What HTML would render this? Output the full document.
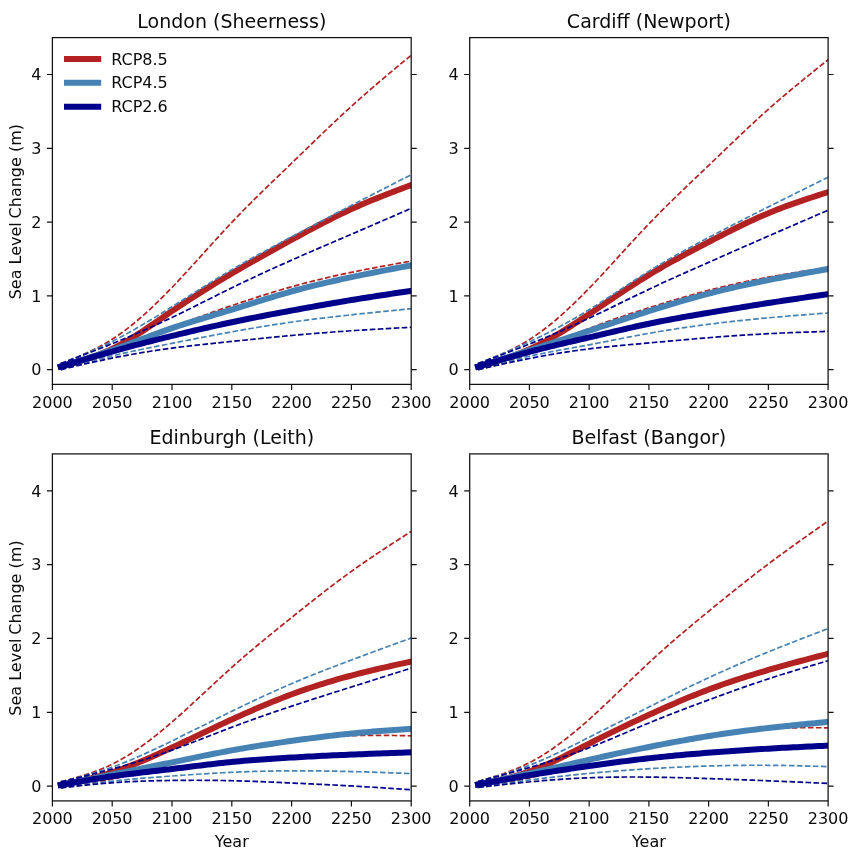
<!DOCTYPE html>
<html lang="en"><head><meta charset="utf-8"><title>Sea Level Change projections</title>
<style>html,body{margin:0;padding:0;background:#fff}svg{display:block}text{font-family:"DejaVu Sans","Liberation Sans",sans-serif;fill:#0a0a0a}.tk{font-size:16px}.tt{font-size:19px}.ax{fill:none;stroke:#111;stroke-width:1.25}.tm{stroke:#111;stroke-width:1.2;fill:none}.md{fill:none;stroke-width:6;stroke-linecap:square;stroke-linejoin:round}.ds{fill:none;stroke-width:1.7;stroke-dasharray:5.6 2.4;stroke-linejoin:round}</style></head><body>
<svg role="img" aria-label="Sea level change projections to 2300 for four UK tide gauge sites" width="863" height="858" viewBox="0 0 863 858">
<rect width="863" height="858" fill="#fff"/>
<clipPath id="c0"><rect x="52.4" y="37.6" width="358.8" height="346.8"/></clipPath>
<g clip-path="url(#c0)">
<polyline class="md" stroke="#b22222" points="60.77,366.6 64.36,365.62 67.95,364.62 71.54,363.61 75.12,362.58 78.71,361.52 82.3,360.42 85.89,359.28 89.48,358.08 93.06,356.83 96.65,355.51 100.24,354.12 103.83,352.65 107.42,351.09 111,349.43 114.59,347.67 118.18,345.82 121.77,343.87 125.36,341.83 128.94,339.72 132.53,337.54 136.12,335.29 139.71,333 143.3,330.65 146.88,328.27 150.47,325.85 154.06,323.42 157.65,320.96 161.24,318.5 164.82,316.04 168.41,313.58 172,311.14 175.59,308.73 179.18,306.33 182.76,303.95 186.35,301.6 189.94,299.26 193.53,296.95 197.12,294.66 200.7,292.38 204.29,290.13 207.88,287.89 211.47,285.67 215.06,283.47 218.64,281.29 222.23,279.13 225.82,276.98 229.41,274.84 233,272.73 236.58,270.63 240.17,268.54 243.76,266.47 247.35,264.41 250.94,262.36 254.52,260.32 258.11,258.3 261.7,256.28 265.29,254.28 268.88,252.28 272.46,250.29 276.05,248.31 279.64,246.33 283.23,244.36 286.82,242.4 290.4,240.44 293.99,238.48 297.58,236.53 301.17,234.58 304.76,232.65 308.34,230.72 311.93,228.81 315.52,226.9 319.11,225.02 322.7,223.15 326.28,221.31 329.87,219.48 333.46,217.68 337.05,215.91 340.64,214.16 344.22,212.44 347.81,210.75 351.4,209.1 354.99,207.48 358.58,205.89 362.16,204.33 365.75,202.81 369.34,201.31 372.93,199.83 376.52,198.38 380.1,196.94 383.69,195.53 387.28,194.13 390.87,192.75 394.46,191.37 398.04,190.01 401.63,188.66 405.22,187.31 411.2,185.06"/>
<polyline class="ds" stroke="#b22222" points="60.77,363.65 64.36,362.23 67.95,360.81 71.54,359.37 75.12,357.91 78.71,356.41 82.3,354.87 85.89,353.28 89.48,351.62 93.06,349.91 96.65,348.11 100.24,346.23 103.83,344.26 107.42,342.18 111,340 114.59,337.7 118.18,335.27 121.77,332.74 125.36,330.09 128.94,327.34 132.53,324.48 136.12,321.53 139.71,318.48 143.3,315.34 146.88,312.12 150.47,308.81 154.06,305.43 157.65,301.97 161.24,298.44 164.82,294.85 168.41,291.19 172,287.48 175.59,283.72 179.18,279.9 182.76,276.05 186.35,272.16 189.94,268.24 193.53,264.3 197.12,260.34 200.7,256.37 204.29,252.4 207.88,248.42 211.47,244.46 215.06,240.5 218.64,236.57 222.23,232.66 225.82,228.78 229.41,224.94 233,221.15 236.58,217.4 240.17,213.69 243.76,210.02 247.35,206.39 250.94,202.79 254.52,199.22 258.11,195.67 261.7,192.15 265.29,188.65 268.88,185.16 272.46,181.69 276.05,178.23 279.64,174.77 283.23,171.32 286.82,167.86 290.4,164.4 293.99,160.94 297.58,157.47 301.17,153.99 304.76,150.51 308.34,147.03 311.93,143.56 315.52,140.09 319.11,136.63 322.7,133.19 326.28,129.75 329.87,126.33 333.46,122.94 337.05,119.56 340.64,116.2 344.22,112.88 347.81,109.58 351.4,106.31 354.99,103.08 358.58,99.87 362.16,96.7 365.75,93.56 369.34,90.44 372.93,87.35 376.52,84.27 380.1,81.22 383.69,78.19 387.28,75.17 390.87,72.16 394.46,69.17 398.04,66.18 401.63,63.2 405.22,60.23 411.2,55.29"/>
<polyline class="ds" stroke="#b22222" points="60.77,369.56 64.36,368.54 67.95,367.51 71.54,366.47 75.12,365.43 78.71,364.37 82.3,363.29 85.89,362.2 89.48,361.09 93.06,359.94 96.65,358.77 100.24,357.57 103.83,356.34 107.42,355.06 111,353.74 114.59,352.38 118.18,350.98 121.77,349.54 125.36,348.06 128.94,346.55 132.53,345.02 136.12,343.47 139.71,341.9 143.3,340.32 146.88,338.73 150.47,337.14 154.06,335.55 157.65,333.97 161.24,332.4 164.82,330.84 168.41,329.3 172,327.78 175.59,326.29 179.18,324.83 182.76,323.39 186.35,321.98 189.94,320.59 193.53,319.22 197.12,317.87 200.7,316.54 204.29,315.23 207.88,313.93 211.47,312.65 215.06,311.38 218.64,310.12 222.23,308.88 225.82,307.64 229.41,306.41 233,305.19 236.58,303.98 240.17,302.77 243.76,301.57 247.35,300.38 250.94,299.2 254.52,298.03 258.11,296.87 261.7,295.73 265.29,294.59 268.88,293.47 272.46,292.37 276.05,291.28 279.64,290.2 283.23,289.14 286.82,288.1 290.4,287.08 293.99,286.07 297.58,285.09 301.17,284.12 304.76,283.18 308.34,282.25 311.93,281.33 315.52,280.44 319.11,279.56 322.7,278.7 326.28,277.85 329.87,277.02 333.46,276.2 337.05,275.4 340.64,274.61 344.22,273.83 347.81,273.07 351.4,272.32 354.99,271.59 358.58,270.86 362.16,270.15 365.75,269.44 369.34,268.75 372.93,268.06 376.52,267.38 380.1,266.71 383.69,266.05 387.28,265.39 390.87,264.73 394.46,264.08 398.04,263.44 401.63,262.79 405.22,262.15 411.2,261.08"/>
<polyline class="md" stroke="#4682b4" points="60.77,366.6 64.36,365.49 67.95,364.38 71.54,363.27 75.12,362.15 78.71,361.02 82.3,359.89 85.89,358.75 89.48,357.6 93.06,356.44 96.65,355.26 100.24,354.07 103.83,352.86 107.42,351.63 111,350.39 114.59,349.12 118.18,347.83 121.77,346.53 125.36,345.22 128.94,343.89 132.53,342.56 136.12,341.22 139.71,339.87 143.3,338.53 146.88,337.19 150.47,335.86 154.06,334.54 157.65,333.22 161.24,331.93 164.82,330.65 168.41,329.39 172,328.15 175.59,326.94 179.18,325.75 182.76,324.59 186.35,323.44 189.94,322.31 193.53,321.2 197.12,320.1 200.7,319.01 204.29,317.93 207.88,316.85 211.47,315.78 215.06,314.71 218.64,313.63 222.23,312.56 225.82,311.48 229.41,310.39 233,309.3 236.58,308.19 240.17,307.08 243.76,305.96 247.35,304.83 250.94,303.71 254.52,302.58 258.11,301.46 261.7,300.33 265.29,299.22 268.88,298.11 272.46,297.01 276.05,295.92 279.64,294.85 283.23,293.79 286.82,292.76 290.4,291.74 293.99,290.74 297.58,289.76 301.17,288.81 304.76,287.87 308.34,286.95 311.93,286.06 315.52,285.18 319.11,284.31 322.7,283.46 326.28,282.63 329.87,281.81 333.46,281 337.05,280.21 340.64,279.42 344.22,278.65 347.81,277.88 351.4,277.13 354.99,276.38 358.58,275.64 362.16,274.9 365.75,274.18 369.34,273.45 372.93,272.74 376.52,272.02 380.1,271.32 383.69,270.61 387.28,269.91 390.87,269.21 394.46,268.52 398.04,267.83 401.63,267.14 405.22,266.45 411.2,265.3"/>
<polyline class="ds" stroke="#4682b4" points="60.77,363.65 64.36,362.22 67.95,360.79 71.54,359.35 75.12,357.9 78.71,356.44 82.3,354.96 85.89,353.46 89.48,351.93 93.06,350.38 96.65,348.79 100.24,347.17 103.83,345.51 107.42,343.81 111,342.06 114.59,340.26 118.18,338.41 121.77,336.52 125.36,334.58 128.94,332.6 132.53,330.59 136.12,328.54 139.71,326.46 143.3,324.34 146.88,322.21 150.47,320.04 154.06,317.86 157.65,315.65 161.24,313.43 164.82,311.2 168.41,308.96 172,306.71 175.59,304.45 179.18,302.19 182.76,299.93 186.35,297.67 189.94,295.41 193.53,293.15 197.12,290.9 200.7,288.66 204.29,286.42 207.88,284.19 211.47,281.98 215.06,279.78 218.64,277.59 222.23,275.42 225.82,273.27 229.41,271.14 233,269.03 236.58,266.95 240.17,264.88 243.76,262.84 247.35,260.81 250.94,258.8 254.52,256.8 258.11,254.83 261.7,252.86 265.29,250.91 268.88,248.96 272.46,247.03 276.05,245.11 279.64,243.19 283.23,241.27 286.82,239.37 290.4,237.46 293.99,235.56 297.58,233.66 301.17,231.76 304.76,229.86 308.34,227.96 311.93,226.07 315.52,224.18 319.11,222.29 322.7,220.4 326.28,218.51 329.87,216.63 333.46,214.75 337.05,212.87 340.64,211 344.22,209.13 347.81,207.26 351.4,205.4 354.99,203.54 358.58,201.68 362.16,199.83 365.75,197.98 369.34,196.13 372.93,194.29 376.52,192.45 380.1,190.61 383.69,188.77 387.28,186.93 390.87,185.09 394.46,183.26 398.04,181.43 401.63,179.6 405.22,177.76 411.2,174.71"/>
<polyline class="ds" stroke="#4682b4" points="60.77,369.56 64.36,368.56 67.95,367.56 71.54,366.57 75.12,365.57 78.71,364.59 82.3,363.61 85.89,362.63 89.48,361.67 93.06,360.72 96.65,359.78 100.24,358.85 103.83,357.94 107.42,357.05 111,356.17 114.59,355.31 118.18,354.47 121.77,353.65 125.36,352.85 128.94,352.06 132.53,351.28 136.12,350.52 139.71,349.76 143.3,349.02 146.88,348.29 150.47,347.56 154.06,346.84 157.65,346.13 161.24,345.42 164.82,344.72 168.41,344.01 172,343.31 175.59,342.61 179.18,341.91 182.76,341.2 186.35,340.5 189.94,339.8 193.53,339.1 197.12,338.4 200.7,337.71 204.29,337.02 207.88,336.33 211.47,335.64 215.06,334.96 218.64,334.28 222.23,333.61 225.82,332.95 229.41,332.29 233,331.63 236.58,330.98 240.17,330.34 243.76,329.71 247.35,329.09 250.94,328.47 254.52,327.86 258.11,327.26 261.7,326.66 265.29,326.08 268.88,325.5 272.46,324.94 276.05,324.38 279.64,323.83 283.23,323.3 286.82,322.77 290.4,322.26 293.99,321.75 297.58,321.26 301.17,320.78 304.76,320.31 308.34,319.84 311.93,319.39 315.52,318.94 319.11,318.5 322.7,318.07 326.28,317.65 329.87,317.23 333.46,316.82 337.05,316.42 340.64,316.02 344.22,315.62 347.81,315.23 351.4,314.84 354.99,314.46 358.58,314.08 362.16,313.7 365.75,313.32 369.34,312.95 372.93,312.58 376.52,312.21 380.1,311.84 383.69,311.47 387.28,311.11 390.87,310.75 394.46,310.38 398.04,310.02 401.63,309.66 405.22,309.3 411.2,308.7"/>
<polyline class="md" stroke="#00008b" points="60.77,366.6 64.36,365.52 67.95,364.44 71.54,363.36 75.12,362.28 78.71,361.2 82.3,360.13 85.89,359.06 89.48,358 93.06,356.95 96.65,355.9 100.24,354.85 103.83,353.82 107.42,352.8 111,351.78 114.59,350.78 118.18,349.78 121.77,348.8 125.36,347.83 128.94,346.86 132.53,345.91 136.12,344.96 139.71,344.03 143.3,343.1 146.88,342.18 150.47,341.26 154.06,340.35 157.65,339.46 161.24,338.56 164.82,337.67 168.41,336.79 172,335.92 175.59,335.05 179.18,334.18 182.76,333.32 186.35,332.47 189.94,331.62 193.53,330.77 197.12,329.94 200.7,329.11 204.29,328.29 207.88,327.47 211.47,326.66 215.06,325.86 218.64,325.07 222.23,324.29 225.82,323.51 229.41,322.74 233,321.98 236.58,321.23 240.17,320.49 243.76,319.76 247.35,319.03 250.94,318.31 254.52,317.6 258.11,316.89 261.7,316.19 265.29,315.5 268.88,314.81 272.46,314.13 276.05,313.45 279.64,312.78 283.23,312.1 286.82,311.44 290.4,310.77 293.99,310.11 297.58,309.45 301.17,308.8 304.76,308.15 308.34,307.5 311.93,306.85 315.52,306.21 319.11,305.57 322.7,304.94 326.28,304.31 329.87,303.69 333.46,303.07 337.05,302.45 340.64,301.84 344.22,301.24 347.81,300.64 351.4,300.05 354.99,299.47 358.58,298.89 362.16,298.31 365.75,297.74 369.34,297.18 372.93,296.62 376.52,296.06 380.1,295.51 383.69,294.96 387.28,294.41 390.87,293.87 394.46,293.32 398.04,292.78 401.63,292.24 405.22,291.71 411.2,290.81"/>
<polyline class="ds" stroke="#00008b" points="60.77,363.65 64.36,362.28 67.95,360.92 71.54,359.56 75.12,358.19 78.71,356.82 82.3,355.44 85.89,354.06 89.48,352.67 93.06,351.28 96.65,349.87 100.24,348.46 103.83,347.04 107.42,345.61 111,344.17 114.59,342.71 118.18,341.24 121.77,339.76 125.36,338.26 128.94,336.75 132.53,335.23 136.12,333.69 139.71,332.13 143.3,330.56 146.88,328.98 150.47,327.38 154.06,325.76 157.65,324.13 161.24,322.48 164.82,320.81 168.41,319.13 172,317.43 175.59,315.71 179.18,313.98 182.76,312.23 186.35,310.46 189.94,308.69 193.53,306.91 197.12,305.12 200.7,303.33 204.29,301.53 207.88,299.74 211.47,297.94 215.06,296.14 218.64,294.35 222.23,292.57 225.82,290.79 229.41,289.02 233,287.27 236.58,285.52 240.17,283.79 243.76,282.07 247.35,280.36 250.94,278.67 254.52,276.98 258.11,275.31 261.7,273.64 265.29,271.98 268.88,270.34 272.46,268.7 276.05,267.08 279.64,265.46 283.23,263.85 286.82,262.24 290.4,260.65 293.99,259.06 297.58,257.48 301.17,255.91 304.76,254.34 308.34,252.78 311.93,251.22 315.52,249.67 319.11,248.12 322.7,246.57 326.28,245.03 329.87,243.48 333.46,241.94 337.05,240.4 340.64,238.86 344.22,237.32 347.81,235.78 351.4,234.24 354.99,232.7 358.58,231.15 362.16,229.6 365.75,228.05 369.34,226.5 372.93,224.95 376.52,223.4 380.1,221.85 383.69,220.29 387.28,218.74 390.87,217.18 394.46,215.63 398.04,214.07 401.63,212.51 405.22,210.95 411.2,208.36"/>
<polyline class="ds" stroke="#00008b" points="60.77,369.56 64.36,368.73 67.95,367.89 71.54,367.06 75.12,366.23 78.71,365.4 82.3,364.58 85.89,363.77 89.48,362.96 93.06,362.16 96.65,361.38 100.24,360.6 103.83,359.83 107.42,359.08 111,358.34 114.59,357.62 118.18,356.91 121.77,356.22 125.36,355.54 128.94,354.88 132.53,354.24 136.12,353.61 139.71,352.99 143.3,352.39 146.88,351.8 150.47,351.23 154.06,350.68 157.65,350.14 161.24,349.61 164.82,349.1 168.41,348.6 172,348.12 175.59,347.65 179.18,347.19 182.76,346.75 186.35,346.32 189.94,345.9 193.53,345.49 197.12,345.09 200.7,344.69 204.29,344.31 207.88,343.93 211.47,343.55 215.06,343.18 218.64,342.81 222.23,342.44 225.82,342.07 229.41,341.71 233,341.34 236.58,340.97 240.17,340.6 243.76,340.23 247.35,339.86 250.94,339.49 254.52,339.13 258.11,338.76 261.7,338.39 265.29,338.03 268.88,337.67 272.46,337.31 276.05,336.96 279.64,336.61 283.23,336.26 286.82,335.92 290.4,335.58 293.99,335.25 297.58,334.93 301.17,334.61 304.76,334.3 308.34,333.99 311.93,333.69 315.52,333.39 319.11,333.1 322.7,332.82 326.28,332.54 329.87,332.27 333.46,332 337.05,331.74 340.64,331.48 344.22,331.23 347.81,330.98 351.4,330.74 354.99,330.5 358.58,330.27 362.16,330.05 365.75,329.83 369.34,329.61 372.93,329.4 376.52,329.19 380.1,328.98 383.69,328.77 387.28,328.57 390.87,328.37 394.46,328.17 398.04,327.98 401.63,327.78 405.22,327.59 411.2,327.26"/>
</g>
<rect class="ax" x="52.4" y="37.6" width="358.8" height="346.8"/>
<path class="tm" d="M52.4 384.4v5.5M112.2 384.4v5.5M172 384.4v5.5M231.8 384.4v5.5M291.6 384.4v5.5M351.4 384.4v5.5M411.2 384.4v5.5M52.4 369.64h-5.5M411.2 369.64h5.5M52.4 295.86h-5.5M411.2 295.86h5.5M52.4 222.07h-5.5M411.2 222.07h5.5M52.4 148.28h-5.5M411.2 148.28h5.5M52.4 74.49h-5.5M411.2 74.49h5.5"/>
<text class="tk" text-anchor="middle" x="52.4" y="408.1">2000</text>
<text class="tk" text-anchor="middle" x="112.2" y="408.1">2050</text>
<text class="tk" text-anchor="middle" x="172" y="408.1">2100</text>
<text class="tk" text-anchor="middle" x="231.8" y="408.1">2150</text>
<text class="tk" text-anchor="middle" x="291.6" y="408.1">2200</text>
<text class="tk" text-anchor="middle" x="351.4" y="408.1">2250</text>
<text class="tk" text-anchor="middle" x="411.2" y="408.1">2300</text>
<text class="tk" text-anchor="end" x="41.5" y="375.47">0</text>
<text class="tk" text-anchor="end" x="41.5" y="301.69">1</text>
<text class="tk" text-anchor="end" x="41.5" y="227.9">2</text>
<text class="tk" text-anchor="end" x="41.5" y="154.11">3</text>
<text class="tk" text-anchor="end" x="41.5" y="80.33">4</text>
<text class="tt" text-anchor="middle" x="231.8" y="28">London (Sheerness)</text>
<text class="tk" text-anchor="middle" transform="translate(21.2 211.65) rotate(-90)">Sea Level<tspan dx="-1.3"> Change (m)</tspan></text>
<clipPath id="c1"><rect x="469.7" y="37.6" width="358.4" height="346.8"/></clipPath>
<g clip-path="url(#c1)">
<polyline class="md" stroke="#b22222" points="478.06,366.6 481.65,365.59 485.23,364.57 488.81,363.54 492.4,362.5 495.98,361.42 499.57,360.32 503.15,359.19 506.73,358.01 510.32,356.79 513.9,355.51 517.49,354.18 521.07,352.78 524.65,351.31 528.24,349.76 531.82,348.13 535.41,346.42 538.99,344.64 542.57,342.78 546.16,340.86 549.74,338.87 553.33,336.82 556.91,334.72 560.49,332.57 564.08,330.38 567.66,328.14 571.25,325.86 574.83,323.56 578.41,321.22 582,318.87 585.58,316.49 589.17,314.1 592.75,311.7 596.33,309.29 599.92,306.88 603.5,304.47 607.09,302.06 610.67,299.65 614.25,297.25 617.84,294.85 621.42,292.47 625.01,290.11 628.59,287.76 632.17,285.43 635.76,283.12 639.34,280.84 642.93,278.59 646.51,276.37 650.09,274.19 653.68,272.03 657.26,269.92 660.85,267.83 664.43,265.77 668.01,263.74 671.6,261.73 675.18,259.75 678.77,257.79 682.35,255.85 685.93,253.92 689.52,252.01 693.1,250.12 696.69,248.23 700.27,246.36 703.85,244.49 707.44,242.62 711.02,240.76 714.61,238.91 718.19,237.06 721.77,235.22 725.36,233.39 728.94,231.58 732.53,229.78 736.11,228 739.69,226.24 743.28,224.5 746.86,222.79 750.45,221.1 754.03,219.44 757.61,217.82 761.2,216.23 764.78,214.68 768.37,213.16 771.95,211.69 775.53,210.26 779.12,208.86 782.7,207.49 786.29,206.16 789.87,204.86 793.45,203.58 797.04,202.32 800.62,201.09 804.21,199.88 807.79,198.68 811.37,197.5 814.96,196.33 818.54,195.16 822.13,194.01 828.1,192.09"/>
<polyline class="ds" stroke="#b22222" points="478.06,363.65 481.65,362.26 485.23,360.87 488.81,359.46 492.4,358.02 495.98,356.55 499.57,355.03 503.15,353.47 506.73,351.84 510.32,350.15 513.9,348.38 517.49,346.53 521.07,344.58 524.65,342.52 528.24,340.36 531.82,338.08 535.41,335.68 538.99,333.16 542.57,330.53 546.16,327.8 549.74,324.96 553.33,322.03 556.91,319 560.49,315.88 564.08,312.68 567.66,309.39 571.25,306.03 574.83,302.6 578.41,299.09 582,295.53 585.58,291.9 589.17,288.22 592.75,284.49 596.33,280.71 599.92,276.9 603.5,273.05 607.09,269.17 610.67,265.27 614.25,261.36 617.84,257.43 621.42,253.5 625.01,249.58 628.59,245.66 632.17,241.75 635.76,237.87 639.34,234.01 642.93,230.18 646.51,226.39 650.09,222.64 653.68,218.94 657.26,215.28 660.85,211.66 664.43,208.07 668.01,204.52 671.6,201 675.18,197.5 678.77,194.02 682.35,190.57 685.93,187.12 689.52,183.69 693.1,180.27 696.69,176.86 700.27,173.44 703.85,170.03 707.44,166.61 711.02,163.18 714.61,159.75 718.19,156.31 721.77,152.87 725.36,149.42 728.94,145.99 732.53,142.56 736.11,139.14 739.69,135.73 743.28,132.34 746.86,128.97 750.45,125.61 754.03,122.29 757.61,118.98 761.2,115.71 764.78,112.47 768.37,109.27 771.95,106.1 775.53,102.97 779.12,99.87 782.7,96.81 786.29,93.77 789.87,90.76 793.45,87.78 797.04,84.81 800.62,81.87 804.21,78.95 807.79,76.04 811.37,73.14 814.96,70.25 818.54,67.37 822.13,64.5 828.1,59.72"/>
<polyline class="ds" stroke="#b22222" points="478.06,369.56 481.65,368.57 485.23,367.57 488.81,366.56 492.4,365.55 495.98,364.52 499.57,363.48 503.15,362.41 506.73,361.32 510.32,360.21 513.9,359.06 517.49,357.88 521.07,356.66 524.65,355.41 528.24,354.11 531.82,352.76 535.41,351.37 538.99,349.94 542.57,348.47 546.16,346.98 549.74,345.46 553.33,343.92 556.91,342.36 560.49,340.8 564.08,339.23 567.66,337.66 571.25,336.09 574.83,334.54 578.41,333 582,331.48 585.58,329.99 589.17,328.52 592.75,327.09 596.33,325.7 599.92,324.33 603.5,322.99 607.09,321.68 610.67,320.4 614.25,319.14 617.84,317.91 621.42,316.69 625.01,315.49 628.59,314.31 632.17,313.14 635.76,311.98 639.34,310.83 642.93,309.7 646.51,308.57 650.09,307.44 653.68,306.32 657.26,305.2 660.85,304.09 664.43,302.99 668.01,301.89 671.6,300.81 675.18,299.73 678.77,298.66 682.35,297.6 685.93,296.56 689.52,295.53 693.1,294.51 696.69,293.51 700.27,292.52 703.85,291.56 707.44,290.6 711.02,289.67 714.61,288.76 718.19,287.86 721.77,286.99 725.36,286.13 728.94,285.29 732.53,284.46 736.11,283.66 739.69,282.87 743.28,282.1 746.86,281.34 750.45,280.6 754.03,279.87 757.61,279.17 761.2,278.47 764.78,277.79 768.37,277.13 771.95,276.48 775.53,275.84 779.12,275.22 782.7,274.61 786.29,274.01 789.87,273.42 793.45,272.83 797.04,272.26 800.62,271.7 804.21,271.14 807.79,270.58 811.37,270.03 814.96,269.49 818.54,268.95 822.13,268.41 828.1,267.52"/>
<polyline class="md" stroke="#4682b4" points="478.06,366.6 481.65,365.48 485.23,364.35 488.81,363.23 492.4,362.1 495.98,360.97 499.57,359.84 503.15,358.71 506.73,357.57 510.32,356.44 513.9,355.3 517.49,354.16 521.07,353.02 524.65,351.87 528.24,350.72 531.82,349.57 535.41,348.41 538.99,347.25 542.57,346.09 546.16,344.92 549.74,343.75 553.33,342.58 556.91,341.4 560.49,340.22 564.08,339.04 567.66,337.86 571.25,336.68 574.83,335.49 578.41,334.31 582,333.12 585.58,331.93 589.17,330.74 592.75,329.55 596.33,328.36 599.92,327.17 603.5,325.98 607.09,324.79 610.67,323.6 614.25,322.41 617.84,321.23 621.42,320.05 625.01,318.87 628.59,317.7 632.17,316.53 635.76,315.36 639.34,314.21 642.93,313.05 646.51,311.91 650.09,310.76 653.68,309.63 657.26,308.51 660.85,307.39 664.43,306.28 668.01,305.18 671.6,304.1 675.18,303.02 678.77,301.95 682.35,300.9 685.93,299.86 689.52,298.84 693.1,297.82 696.69,296.83 700.27,295.85 703.85,294.88 707.44,293.93 711.02,293 714.61,292.09 718.19,291.19 721.77,290.31 725.36,289.44 728.94,288.59 732.53,287.76 736.11,286.93 739.69,286.13 743.28,285.33 746.86,284.55 750.45,283.78 754.03,283.02 757.61,282.27 761.2,281.53 764.78,280.81 768.37,280.09 771.95,279.38 775.53,278.67 779.12,277.98 782.7,277.29 786.29,276.61 789.87,275.94 793.45,275.27 797.04,274.61 800.62,273.95 804.21,273.29 807.79,272.64 811.37,272 814.96,271.35 818.54,270.71 822.13,270.06 828.1,268.99"/>
<polyline class="ds" stroke="#4682b4" points="478.06,363.65 481.65,362.2 485.23,360.74 488.81,359.29 492.4,357.83 495.98,356.35 499.57,354.87 503.15,353.38 506.73,351.87 510.32,350.34 513.9,348.8 517.49,347.23 521.07,345.64 524.65,344.03 528.24,342.39 531.82,340.71 535.41,339.01 538.99,337.28 542.57,335.52 546.16,333.72 549.74,331.9 553.33,330.04 556.91,328.15 560.49,326.23 564.08,324.28 567.66,322.29 571.25,320.27 574.83,318.22 578.41,316.13 582,314.01 585.58,311.85 589.17,309.67 592.75,307.44 596.33,305.19 599.92,302.91 603.5,300.61 607.09,298.29 610.67,295.95 614.25,293.6 617.84,291.25 621.42,288.9 625.01,286.55 628.59,284.2 632.17,281.86 635.76,279.54 639.34,277.24 642.93,274.96 646.51,272.7 650.09,270.47 653.68,268.28 657.26,266.12 660.85,263.99 664.43,261.88 668.01,259.8 671.6,257.74 675.18,255.71 678.77,253.7 682.35,251.71 685.93,249.74 689.52,247.78 693.1,245.84 696.69,243.91 700.27,242 703.85,240.09 707.44,238.2 711.02,236.31 714.61,234.43 718.19,232.55 721.77,230.68 725.36,228.82 728.94,226.96 732.53,225.11 736.11,223.26 739.69,221.42 743.28,219.58 746.86,217.75 750.45,215.93 754.03,214.11 757.61,212.29 761.2,210.48 764.78,208.68 768.37,206.88 771.95,205.08 775.53,203.29 779.12,201.5 782.7,199.72 786.29,197.93 789.87,196.15 793.45,194.38 797.04,192.6 800.62,190.83 804.21,189.06 807.79,187.3 811.37,185.53 814.96,183.77 818.54,182 822.13,180.24 828.1,177.3"/>
<polyline class="ds" stroke="#4682b4" points="478.06,369.56 481.65,368.57 485.23,367.58 488.81,366.6 492.4,365.62 495.98,364.65 499.57,363.68 503.15,362.73 506.73,361.79 510.32,360.87 513.9,359.96 517.49,359.07 521.07,358.2 524.65,357.35 528.24,356.52 531.82,355.72 535.41,354.95 538.99,354.19 542.57,353.46 546.16,352.74 549.74,352.04 553.33,351.36 556.91,350.69 560.49,350.02 564.08,349.36 567.66,348.71 571.25,348.06 574.83,347.42 578.41,346.77 582,346.11 585.58,345.46 589.17,344.79 592.75,344.12 596.33,343.43 599.92,342.74 603.5,342.04 607.09,341.34 610.67,340.64 614.25,339.94 617.84,339.23 621.42,338.53 625.01,337.83 628.59,337.13 632.17,336.44 635.76,335.75 639.34,335.08 642.93,334.41 646.51,333.76 650.09,333.12 653.68,332.49 657.26,331.87 660.85,331.27 664.43,330.68 668.01,330.1 671.6,329.53 675.18,328.98 678.77,328.44 682.35,327.9 685.93,327.38 689.52,326.87 693.1,326.37 696.69,325.88 700.27,325.4 703.85,324.92 707.44,324.46 711.02,324 714.61,323.56 718.19,323.12 721.77,322.69 725.36,322.27 728.94,321.85 732.53,321.44 736.11,321.05 739.69,320.65 743.28,320.27 746.86,319.9 750.45,319.53 754.03,319.17 757.61,318.81 761.2,318.47 764.78,318.13 768.37,317.8 771.95,317.48 775.53,317.16 779.12,316.85 782.7,316.54 786.29,316.24 789.87,315.95 793.45,315.65 797.04,315.37 800.62,315.09 804.21,314.81 807.79,314.53 811.37,314.25 814.96,313.98 818.54,313.71 822.13,313.44 828.1,312.99"/>
<polyline class="md" stroke="#00008b" points="478.06,366.6 481.65,365.53 485.23,364.46 488.81,363.39 492.4,362.33 495.98,361.26 499.57,360.21 503.15,359.16 506.73,358.12 510.32,357.09 513.9,356.08 517.49,355.07 521.07,354.08 524.65,353.1 528.24,352.13 531.82,351.19 535.41,350.26 538.99,349.34 542.57,348.44 546.16,347.55 549.74,346.67 553.33,345.81 556.91,344.95 560.49,344.1 564.08,343.25 567.66,342.41 571.25,341.57 574.83,340.74 578.41,339.9 582,339.07 585.58,338.23 589.17,337.4 592.75,336.55 596.33,335.71 599.92,334.86 603.5,334.01 607.09,333.17 610.67,332.32 614.25,331.48 617.84,330.64 621.42,329.8 625.01,328.98 628.59,328.16 632.17,327.35 635.76,326.55 639.34,325.76 642.93,324.98 646.51,324.22 650.09,323.47 653.68,322.73 657.26,322.01 660.85,321.31 664.43,320.61 668.01,319.93 671.6,319.26 675.18,318.6 678.77,317.95 682.35,317.31 685.93,316.67 689.52,316.04 693.1,315.42 696.69,314.8 700.27,314.19 703.85,313.58 707.44,312.97 711.02,312.37 714.61,311.76 718.19,311.16 721.77,310.56 725.36,309.96 728.94,309.37 732.53,308.77 736.11,308.18 739.69,307.59 743.28,307.01 746.86,306.43 750.45,305.85 754.03,305.27 757.61,304.7 761.2,304.13 764.78,303.57 768.37,303.01 771.95,302.46 775.53,301.9 779.12,301.36 782.7,300.81 786.29,300.27 789.87,299.74 793.45,299.2 797.04,298.67 800.62,298.14 804.21,297.62 807.79,297.09 811.37,296.57 814.96,296.05 818.54,295.52 822.13,295 828.1,294.14"/>
<polyline class="ds" stroke="#00008b" points="478.06,363.65 481.65,362.31 485.23,360.98 488.81,359.64 492.4,358.3 495.98,356.95 499.57,355.61 503.15,354.25 506.73,352.89 510.32,351.52 513.9,350.14 517.49,348.76 521.07,347.36 524.65,345.95 528.24,344.53 531.82,343.09 535.41,341.64 538.99,340.18 542.57,338.71 546.16,337.22 549.74,335.71 553.33,334.19 556.91,332.66 560.49,331.11 564.08,329.54 567.66,327.97 571.25,326.37 574.83,324.76 578.41,323.14 582,321.5 585.58,319.84 589.17,318.17 592.75,316.48 596.33,314.78 599.92,313.07 603.5,311.34 607.09,309.61 610.67,307.86 614.25,306.12 617.84,304.37 621.42,302.62 625.01,300.87 628.59,299.12 632.17,297.37 635.76,295.63 639.34,293.9 642.93,292.18 646.51,290.46 650.09,288.76 653.68,287.08 657.26,285.41 660.85,283.75 664.43,282.1 668.01,280.46 671.6,278.83 675.18,277.2 678.77,275.59 682.35,273.99 685.93,272.38 689.52,270.79 693.1,269.2 696.69,267.61 700.27,266.03 703.85,264.45 707.44,262.87 711.02,261.29 714.61,259.7 718.19,258.12 721.77,256.54 725.36,254.96 728.94,253.39 732.53,251.81 736.11,250.23 739.69,248.65 743.28,247.08 746.86,245.5 750.45,243.93 754.03,242.36 757.61,240.79 761.2,239.22 764.78,237.65 768.37,236.09 771.95,234.52 775.53,232.96 779.12,231.4 782.7,229.85 786.29,228.29 789.87,226.74 793.45,225.18 797.04,223.63 800.62,222.08 804.21,220.53 807.79,218.98 811.37,217.43 814.96,215.88 818.54,214.33 822.13,212.79 828.1,210.21"/>
<polyline class="ds" stroke="#00008b" points="478.06,369.56 481.65,368.75 485.23,367.95 488.81,367.14 492.4,366.34 495.98,365.54 499.57,364.75 503.15,363.96 506.73,363.18 510.32,362.41 513.9,361.65 517.49,360.89 521.07,360.15 524.65,359.42 528.24,358.71 531.82,358 535.41,357.32 538.99,356.64 542.57,355.99 546.16,355.34 549.74,354.72 553.33,354.11 556.91,353.51 560.49,352.93 564.08,352.36 567.66,351.81 571.25,351.28 574.83,350.76 578.41,350.26 582,349.78 585.58,349.31 589.17,348.86 592.75,348.42 596.33,348 599.92,347.6 603.5,347.21 607.09,346.83 610.67,346.46 614.25,346.1 617.84,345.76 621.42,345.42 625.01,345.08 628.59,344.75 632.17,344.43 635.76,344.11 639.34,343.79 642.93,343.47 646.51,343.15 650.09,342.84 653.68,342.51 657.26,342.19 660.85,341.87 664.43,341.55 668.01,341.22 671.6,340.9 675.18,340.58 678.77,340.26 682.35,339.94 685.93,339.62 689.52,339.31 693.1,338.99 696.69,338.69 700.27,338.38 703.85,338.08 707.44,337.79 711.02,337.5 714.61,337.22 718.19,336.94 721.77,336.66 725.36,336.4 728.94,336.14 732.53,335.88 736.11,335.63 739.69,335.39 743.28,335.16 746.86,334.93 750.45,334.7 754.03,334.49 757.61,334.28 761.2,334.08 764.78,333.89 768.37,333.7 771.95,333.52 775.53,333.35 779.12,333.18 782.7,333.02 786.29,332.87 789.87,332.72 793.45,332.57 797.04,332.43 800.62,332.3 804.21,332.16 807.79,332.03 811.37,331.91 814.96,331.78 818.54,331.66 822.13,331.53 828.1,331.33"/>
</g>
<rect class="ax" x="469.7" y="37.6" width="358.4" height="346.8"/>
<path class="tm" d="M469.7 384.4v5.5M529.43 384.4v5.5M589.17 384.4v5.5M648.9 384.4v5.5M708.63 384.4v5.5M768.37 384.4v5.5M828.1 384.4v5.5M469.7 369.64h-5.5M828.1 369.64h5.5M469.7 295.86h-5.5M828.1 295.86h5.5M469.7 222.07h-5.5M828.1 222.07h5.5M469.7 148.28h-5.5M828.1 148.28h5.5M469.7 74.49h-5.5M828.1 74.49h5.5"/>
<text class="tk" text-anchor="middle" x="469.7" y="408.1">2000</text>
<text class="tk" text-anchor="middle" x="529.43" y="408.1">2050</text>
<text class="tk" text-anchor="middle" x="589.17" y="408.1">2100</text>
<text class="tk" text-anchor="middle" x="648.9" y="408.1">2150</text>
<text class="tk" text-anchor="middle" x="708.63" y="408.1">2200</text>
<text class="tk" text-anchor="middle" x="768.37" y="408.1">2250</text>
<text class="tk" text-anchor="middle" x="828.1" y="408.1">2300</text>
<text class="tk" text-anchor="end" x="458.8" y="375.47">0</text>
<text class="tk" text-anchor="end" x="458.8" y="301.69">1</text>
<text class="tk" text-anchor="end" x="458.8" y="227.9">2</text>
<text class="tk" text-anchor="end" x="458.8" y="154.11">3</text>
<text class="tk" text-anchor="end" x="458.8" y="80.33">4</text>
<text class="tt" text-anchor="middle" x="648.9" y="28">Cardiff (Newport)</text>
<clipPath id="c2"><rect x="52.4" y="453.9" width="358.8" height="347"/></clipPath>
<g clip-path="url(#c2)">
<polyline class="md" stroke="#b22222" points="60.77,784.86 64.36,784.12 67.95,783.37 71.54,782.62 75.12,781.86 78.71,781.08 82.3,780.28 85.89,779.45 89.48,778.6 93.06,777.72 96.65,776.8 100.24,775.84 103.83,774.83 107.42,773.78 111,772.68 114.59,771.52 118.18,770.31 121.77,769.04 125.36,767.72 128.94,766.36 132.53,764.96 136.12,763.52 139.71,762.03 143.3,760.52 146.88,758.98 150.47,757.4 154.06,755.8 157.65,754.18 161.24,752.55 164.82,750.89 168.41,749.23 172,747.55 175.59,745.87 179.18,744.18 182.76,742.49 186.35,740.8 189.94,739.1 193.53,737.4 197.12,735.7 200.7,734 204.29,732.31 207.88,730.61 211.47,728.93 215.06,727.24 218.64,725.56 222.23,723.89 225.82,722.23 229.41,720.58 233,718.93 236.58,717.3 240.17,715.68 243.76,714.08 247.35,712.49 250.94,710.91 254.52,709.35 258.11,707.8 261.7,706.28 265.29,704.77 268.88,703.28 272.46,701.81 276.05,700.36 279.64,698.94 283.23,697.54 286.82,696.16 290.4,694.81 293.99,693.48 297.58,692.18 301.17,690.91 304.76,689.66 308.34,688.44 311.93,687.24 315.52,686.06 319.11,684.91 322.7,683.78 326.28,682.67 329.87,681.59 333.46,680.53 337.05,679.49 340.64,678.47 344.22,677.47 347.81,676.49 351.4,675.53 354.99,674.59 358.58,673.67 362.16,672.76 365.75,671.87 369.34,671 372.93,670.14 376.52,669.29 380.1,668.45 383.69,667.63 387.28,666.81 390.87,666 394.46,665.19 398.04,664.39 401.63,663.6 405.22,662.81 411.2,661.49"/>
<polyline class="ds" stroke="#b22222" points="60.77,781.9 64.36,780.93 67.95,779.95 71.54,778.95 75.12,777.94 78.71,776.89 82.3,775.8 85.89,774.66 89.48,773.47 93.06,772.22 96.65,770.9 100.24,769.5 103.83,768.01 107.42,766.44 111,764.76 114.59,762.97 118.18,761.07 121.77,759.07 125.36,756.96 128.94,754.76 132.53,752.47 136.12,750.08 139.71,747.61 143.3,745.05 146.88,742.42 150.47,739.71 154.06,736.92 157.65,734.07 161.24,731.16 164.82,728.18 168.41,725.15 172,722.07 175.59,718.93 179.18,715.75 182.76,712.54 186.35,709.29 189.94,706.01 193.53,702.7 197.12,699.38 200.7,696.05 204.29,692.71 207.88,689.37 211.47,686.03 215.06,682.69 218.64,679.37 222.23,676.07 225.82,672.8 229.41,669.55 233,666.34 236.58,663.16 240.17,660.02 243.76,656.91 247.35,653.83 250.94,650.78 254.52,647.76 258.11,644.76 261.7,641.78 265.29,638.82 268.88,635.88 272.46,632.96 276.05,630.05 279.64,627.15 283.23,624.26 286.82,621.38 290.4,618.5 293.99,615.63 297.58,612.75 301.17,609.89 304.76,607.03 308.34,604.18 311.93,601.34 315.52,598.52 319.11,595.71 322.7,592.91 326.28,590.13 329.87,587.38 333.46,584.64 337.05,581.93 340.64,579.25 344.22,576.59 347.81,573.97 351.4,571.37 354.99,568.81 358.58,566.28 362.16,563.78 365.75,561.3 369.34,558.85 372.93,556.43 376.52,554.02 380.1,551.64 383.69,549.27 387.28,546.92 390.87,544.58 394.46,542.25 398.04,539.94 401.63,537.62 405.22,535.32 411.2,531.48"/>
<polyline class="ds" stroke="#b22222" points="60.77,787.81 64.36,787.27 67.95,786.72 71.54,786.17 75.12,785.61 78.71,785.04 82.3,784.47 85.89,783.88 89.48,783.27 93.06,782.65 96.65,782.01 100.24,781.34 103.83,780.66 107.42,779.94 111,779.2 114.59,778.43 118.18,777.63 121.77,776.8 125.36,775.95 128.94,775.08 132.53,774.19 136.12,773.29 139.71,772.38 143.3,771.46 146.88,770.53 150.47,769.61 154.06,768.68 157.65,767.76 161.24,766.84 164.82,765.94 168.41,765.05 172,764.17 175.59,763.32 179.18,762.48 182.76,761.65 186.35,760.85 189.94,760.06 193.53,759.28 197.12,758.52 200.7,757.77 204.29,757.03 207.88,756.3 211.47,755.58 215.06,754.86 218.64,754.16 222.23,753.46 225.82,752.76 229.41,752.07 233,751.39 236.58,750.7 240.17,750.02 243.76,749.35 247.35,748.68 250.94,748.01 254.52,747.36 258.11,746.71 261.7,746.07 265.29,745.45 268.88,744.83 272.46,744.23 276.05,743.64 279.64,743.07 283.23,742.51 286.82,741.97 290.4,741.44 293.99,740.94 297.58,740.45 301.17,739.99 304.76,739.54 308.34,739.11 311.93,738.71 315.52,738.32 319.11,737.96 322.7,737.62 326.28,737.3 329.87,737.01 333.46,736.73 337.05,736.48 340.64,736.26 344.22,736.06 347.81,735.88 351.4,735.73 354.99,735.61 358.58,735.51 362.16,735.43 365.75,735.37 369.34,735.33 372.93,735.31 376.52,735.31 380.1,735.32 383.69,735.34 387.28,735.38 390.87,735.43 394.46,735.48 398.04,735.54 401.63,735.61 405.22,735.68 411.2,735.81"/>
<polyline class="md" stroke="#4682b4" points="60.77,784.86 64.36,784.14 67.95,783.41 71.54,782.69 75.12,781.97 78.71,781.25 82.3,780.53 85.89,779.81 89.48,779.09 93.06,778.37 96.65,777.65 100.24,776.92 103.83,776.2 107.42,775.48 111,774.76 114.59,774.03 118.18,773.31 121.77,772.58 125.36,771.86 128.94,771.13 132.53,770.4 136.12,769.68 139.71,768.95 143.3,768.22 146.88,767.49 150.47,766.75 154.06,766.02 157.65,765.28 161.24,764.55 164.82,763.81 168.41,763.07 172,762.33 175.59,761.58 179.18,760.84 182.76,760.09 186.35,759.35 189.94,758.6 193.53,757.86 197.12,757.13 200.7,756.39 204.29,755.67 207.88,754.95 211.47,754.23 215.06,753.53 218.64,752.83 222.23,752.14 225.82,751.46 229.41,750.8 233,750.14 236.58,749.5 240.17,748.87 243.76,748.26 247.35,747.65 250.94,747.05 254.52,746.47 258.11,745.89 261.7,745.33 265.29,744.77 268.88,744.22 272.46,743.68 276.05,743.15 279.64,742.62 283.23,742.1 286.82,741.58 290.4,741.07 293.99,740.57 297.58,740.07 301.17,739.57 304.76,739.08 308.34,738.6 311.93,738.12 315.52,737.66 319.11,737.2 322.7,736.75 326.28,736.3 329.87,735.87 333.46,735.45 337.05,735.04 340.64,734.64 344.22,734.25 347.81,733.88 351.4,733.52 354.99,733.17 358.58,732.83 362.16,732.51 365.75,732.2 369.34,731.9 372.93,731.6 376.52,731.32 380.1,731.04 383.69,730.77 387.28,730.51 390.87,730.26 394.46,730 398.04,729.75 401.63,729.51 405.22,729.27 411.2,728.86"/>
<polyline class="ds" stroke="#4682b4" points="60.77,781.9 64.36,780.99 67.95,780.08 71.54,779.15 75.12,778.22 78.71,777.28 82.3,776.31 85.89,775.33 89.48,774.32 93.06,773.28 96.65,772.21 100.24,771.11 103.83,769.96 107.42,768.78 111,767.55 114.59,766.27 118.18,764.94 121.77,763.56 125.36,762.15 128.94,760.69 132.53,759.19 136.12,757.66 139.71,756.09 143.3,754.49 146.88,752.86 150.47,751.21 154.06,749.54 157.65,747.84 161.24,746.13 164.82,744.4 168.41,742.66 172,740.9 175.59,739.14 179.18,737.38 182.76,735.6 186.35,733.82 189.94,732.04 193.53,730.26 197.12,728.47 200.7,726.68 204.29,724.89 207.88,723.11 211.47,721.32 215.06,719.54 218.64,717.76 222.23,715.98 225.82,714.22 229.41,712.45 233,710.7 236.58,708.95 240.17,707.21 243.76,705.48 247.35,703.77 250.94,702.06 254.52,700.36 258.11,698.68 261.7,697.01 265.29,695.35 268.88,693.7 272.46,692.07 276.05,690.46 279.64,688.86 283.23,687.28 286.82,685.71 290.4,684.17 293.99,682.64 297.58,681.13 301.17,679.63 304.76,678.15 308.34,676.69 311.93,675.24 315.52,673.81 319.11,672.38 322.7,670.97 326.28,669.57 329.87,668.19 333.46,666.81 337.05,665.43 340.64,664.07 344.22,662.71 347.81,661.36 351.4,660.02 354.99,658.67 358.58,657.34 362.16,656 365.75,654.67 369.34,653.34 372.93,652.02 376.52,650.7 380.1,649.38 383.69,648.06 387.28,646.74 390.87,645.43 394.46,644.12 398.04,642.81 401.63,641.5 405.22,640.19 411.2,638"/>
<polyline class="ds" stroke="#4682b4" points="60.77,787.81 64.36,787.31 67.95,786.82 71.54,786.32 75.12,785.83 78.71,785.34 82.3,784.86 85.89,784.38 89.48,783.91 93.06,783.45 96.65,783 100.24,782.55 103.83,782.12 107.42,781.7 111,781.3 114.59,780.9 118.18,780.52 121.77,780.16 125.36,779.8 128.94,779.46 132.53,779.13 136.12,778.81 139.71,778.5 143.3,778.19 146.88,777.9 150.47,777.61 154.06,777.33 157.65,777.05 161.24,776.78 164.82,776.51 168.41,776.25 172,775.99 175.59,775.73 179.18,775.48 182.76,775.23 186.35,774.98 189.94,774.73 193.53,774.49 197.12,774.25 200.7,774.02 204.29,773.8 207.88,773.58 211.47,773.36 215.06,773.16 218.64,772.96 222.23,772.77 225.82,772.58 229.41,772.41 233,772.24 236.58,772.09 240.17,771.94 243.76,771.8 247.35,771.67 250.94,771.55 254.52,771.44 258.11,771.34 261.7,771.25 265.29,771.17 268.88,771.09 272.46,771.03 276.05,770.97 279.64,770.92 283.23,770.88 286.82,770.85 290.4,770.83 293.99,770.81 297.58,770.81 301.17,770.81 304.76,770.82 308.34,770.84 311.93,770.86 315.52,770.89 319.11,770.93 322.7,770.98 326.28,771.03 329.87,771.09 333.46,771.15 337.05,771.22 340.64,771.3 344.22,771.38 347.81,771.47 351.4,771.56 354.99,771.66 358.58,771.76 362.16,771.86 365.75,771.97 369.34,772.08 372.93,772.2 376.52,772.31 380.1,772.43 383.69,772.56 387.28,772.68 390.87,772.81 394.46,772.94 398.04,773.07 401.63,773.2 405.22,773.33 411.2,773.55"/>
<polyline class="md" stroke="#00008b" points="60.77,784.86 64.36,784.23 67.95,783.6 71.54,782.97 75.12,782.34 78.71,781.73 82.3,781.11 85.89,780.5 89.48,779.9 93.06,779.31 96.65,778.73 100.24,778.16 103.83,777.61 107.42,777.06 111,776.53 114.59,776.02 118.18,775.52 121.77,775.04 125.36,774.56 128.94,774.1 132.53,773.65 136.12,773.21 139.71,772.77 143.3,772.35 146.88,771.92 150.47,771.5 154.06,771.08 157.65,770.66 161.24,770.24 164.82,769.82 168.41,769.4 172,768.97 175.59,768.54 179.18,768.1 182.76,767.66 186.35,767.22 189.94,766.78 193.53,766.34 197.12,765.89 200.7,765.46 204.29,765.02 207.88,764.59 211.47,764.17 215.06,763.76 218.64,763.35 222.23,762.95 225.82,762.57 229.41,762.2 233,761.84 236.58,761.49 240.17,761.16 243.76,760.85 247.35,760.54 250.94,760.25 254.52,759.96 258.11,759.69 261.7,759.43 265.29,759.17 268.88,758.93 272.46,758.69 276.05,758.46 279.64,758.23 283.23,758.02 286.82,757.8 290.4,757.59 293.99,757.39 297.58,757.19 301.17,756.99 304.76,756.79 308.34,756.6 311.93,756.41 315.52,756.23 319.11,756.05 322.7,755.87 326.28,755.7 329.87,755.53 333.46,755.36 337.05,755.2 340.64,755.03 344.22,754.88 347.81,754.72 351.4,754.57 354.99,754.42 358.58,754.28 362.16,754.13 365.75,753.99 369.34,753.85 372.93,753.72 376.52,753.58 380.1,753.45 383.69,753.32 387.28,753.19 390.87,753.06 394.46,752.94 398.04,752.81 401.63,752.69 405.22,752.56 411.2,752.35"/>
<polyline class="ds" stroke="#00008b" points="60.77,781.9 64.36,781.04 67.95,780.17 71.54,779.31 75.12,778.44 78.71,777.56 82.3,776.68 85.89,775.8 89.48,774.9 93.06,774 96.65,773.08 100.24,772.16 103.83,771.22 107.42,770.27 111,769.3 114.59,768.32 118.18,767.32 121.77,766.3 125.36,765.27 128.94,764.22 132.53,763.15 136.12,762.06 139.71,760.96 143.3,759.83 146.88,758.69 150.47,757.53 154.06,756.35 157.65,755.15 161.24,753.92 164.82,752.68 168.41,751.42 172,750.14 175.59,748.83 179.18,747.51 182.76,746.17 186.35,744.81 189.94,743.45 193.53,742.07 197.12,740.68 200.7,739.29 204.29,737.89 207.88,736.49 211.47,735.08 215.06,733.68 218.64,732.29 222.23,730.9 225.82,729.52 229.41,728.15 233,726.79 236.58,725.44 240.17,724.11 243.76,722.79 247.35,721.48 250.94,720.18 254.52,718.9 258.11,717.62 261.7,716.36 265.29,715.11 268.88,713.86 272.46,712.63 276.05,711.4 279.64,710.19 283.23,708.98 286.82,707.78 290.4,706.58 293.99,705.39 297.58,704.21 301.17,703.04 304.76,701.86 308.34,700.7 311.93,699.54 315.52,698.38 319.11,697.23 322.7,696.08 326.28,694.94 329.87,693.79 333.46,692.65 337.05,691.51 340.64,690.38 344.22,689.24 347.81,688.11 351.4,686.98 354.99,685.85 358.58,684.71 362.16,683.58 365.75,682.45 369.34,681.32 372.93,680.19 376.52,679.06 380.1,677.93 383.69,676.8 387.28,675.67 390.87,674.54 394.46,673.41 398.04,672.28 401.63,671.15 405.22,670.02 411.2,668.14"/>
<polyline class="ds" stroke="#00008b" points="60.77,787.81 64.36,787.42 67.95,787.02 71.54,786.64 75.12,786.25 78.71,785.87 82.3,785.49 85.89,785.13 89.48,784.77 93.06,784.42 96.65,784.08 100.24,783.76 103.83,783.45 107.42,783.15 111,782.88 114.59,782.62 118.18,782.37 121.77,782.15 125.36,781.94 128.94,781.74 132.53,781.56 136.12,781.4 139.71,781.25 143.3,781.11 146.88,780.99 150.47,780.88 154.06,780.78 157.65,780.69 161.24,780.61 164.82,780.54 168.41,780.48 172,780.42 175.59,780.38 179.18,780.34 182.76,780.31 186.35,780.29 189.94,780.28 193.53,780.27 197.12,780.27 200.7,780.28 204.29,780.3 207.88,780.33 211.47,780.36 215.06,780.4 218.64,780.46 222.23,780.52 225.82,780.59 229.41,780.66 233,780.75 236.58,780.84 240.17,780.95 243.76,781.06 247.35,781.17 250.94,781.3 254.52,781.43 258.11,781.57 261.7,781.71 265.29,781.85 268.88,782 272.46,782.15 276.05,782.31 279.64,782.47 283.23,782.63 286.82,782.79 290.4,782.95 293.99,783.12 297.58,783.28 301.17,783.45 304.76,783.61 308.34,783.78 311.93,783.95 315.52,784.12 319.11,784.29 322.7,784.46 326.28,784.64 329.87,784.82 333.46,785 337.05,785.19 340.64,785.38 344.22,785.57 347.81,785.76 351.4,785.96 354.99,786.17 358.58,786.38 362.16,786.59 365.75,786.8 369.34,787.02 372.93,787.24 376.52,787.47 380.1,787.7 383.69,787.93 387.28,788.16 390.87,788.39 394.46,788.63 398.04,788.86 401.63,789.1 405.22,789.33 411.2,789.73"/>
</g>
<rect class="ax" x="52.4" y="453.9" width="358.8" height="347"/>
<path class="tm" d="M52.4 800.9v5.5M112.2 800.9v5.5M172 800.9v5.5M231.8 800.9v5.5M291.6 800.9v5.5M351.4 800.9v5.5M411.2 800.9v5.5M52.4 786.13h-5.5M411.2 786.13h5.5M52.4 712.3h-5.5M411.2 712.3h5.5M52.4 638.47h-5.5M411.2 638.47h5.5M52.4 564.64h-5.5M411.2 564.64h5.5M52.4 490.81h-5.5M411.2 490.81h5.5"/>
<text class="tk" text-anchor="middle" x="52.4" y="824">2000</text>
<text class="tk" text-anchor="middle" x="112.2" y="824">2050</text>
<text class="tk" text-anchor="middle" x="172" y="824">2100</text>
<text class="tk" text-anchor="middle" x="231.8" y="824">2150</text>
<text class="tk" text-anchor="middle" x="291.6" y="824">2200</text>
<text class="tk" text-anchor="middle" x="351.4" y="824">2250</text>
<text class="tk" text-anchor="middle" x="411.2" y="824">2300</text>
<text class="tk" text-anchor="end" x="41.5" y="791.97">0</text>
<text class="tk" text-anchor="end" x="41.5" y="718.14">1</text>
<text class="tk" text-anchor="end" x="41.5" y="644.31">2</text>
<text class="tk" text-anchor="end" x="41.5" y="570.48">3</text>
<text class="tk" text-anchor="end" x="41.5" y="496.65">4</text>
<text class="tt" text-anchor="middle" x="231.8" y="444.3">Edinburgh (Leith)</text>
<text class="tk" text-anchor="middle" transform="translate(21.2 628.05) rotate(-90)">Sea Level<tspan dx="-1.3"> Change (m)</tspan></text>
<text class="tk" text-anchor="middle" x="231.8" y="846.8">Year</text>
<clipPath id="c3"><rect x="469.7" y="453.9" width="358.4" height="347"/></clipPath>
<g clip-path="url(#c3)">
<polyline class="md" stroke="#b22222" points="478.06,784.49 481.65,783.77 485.23,783.05 488.81,782.32 492.4,781.57 495.98,780.8 499.57,780.01 503.15,779.18 506.73,778.31 510.32,777.4 513.9,776.44 517.49,775.42 521.07,774.34 524.65,773.2 528.24,771.98 531.82,770.69 535.41,769.32 538.99,767.89 542.57,766.39 546.16,764.83 549.74,763.21 553.33,761.55 556.91,759.85 560.49,758.11 564.08,756.34 567.66,754.55 571.25,752.74 574.83,750.91 578.41,749.07 582,747.23 585.58,745.39 589.17,743.56 592.75,741.75 596.33,739.94 599.92,738.15 603.5,736.37 607.09,734.61 610.67,732.85 614.25,731.11 617.84,729.38 621.42,727.66 625.01,725.95 628.59,724.25 632.17,722.57 635.76,720.89 639.34,719.23 642.93,717.57 646.51,715.92 650.09,714.28 653.68,712.65 657.26,711.04 660.85,709.43 664.43,707.83 668.01,706.25 671.6,704.68 675.18,703.13 678.77,701.6 682.35,700.08 685.93,698.58 689.52,697.1 693.1,695.64 696.69,694.2 700.27,692.78 703.85,691.38 707.44,690.02 711.02,688.67 714.61,687.35 718.19,686.06 721.77,684.78 725.36,683.53 728.94,682.31 732.53,681.1 736.11,679.91 739.69,678.74 743.28,677.59 746.86,676.46 750.45,675.35 754.03,674.25 757.61,673.16 761.2,672.09 764.78,671.03 768.37,669.99 771.95,668.96 775.53,667.93 779.12,666.92 782.7,665.92 786.29,664.92 789.87,663.94 793.45,662.96 797.04,661.99 800.62,661.02 804.21,660.06 807.79,659.1 811.37,658.15 814.96,657.2 818.54,656.25 822.13,655.31 828.1,653.74"/>
<polyline class="ds" stroke="#b22222" points="478.06,781.53 481.65,780.48 485.23,779.42 488.81,778.34 492.4,777.24 495.98,776.11 499.57,774.94 503.15,773.73 506.73,772.46 510.32,771.13 513.9,769.73 517.49,768.26 521.07,766.7 524.65,765.05 528.24,763.3 531.82,761.45 535.41,759.48 538.99,757.42 542.57,755.25 546.16,752.99 549.74,750.63 553.33,748.18 556.91,745.64 560.49,743.02 564.08,740.32 567.66,737.54 571.25,734.68 574.83,731.76 578.41,728.76 582,725.7 585.58,722.59 589.17,719.41 592.75,716.18 596.33,712.89 599.92,709.57 603.5,706.21 607.09,702.81 610.67,699.39 614.25,695.95 617.84,692.49 621.42,689.03 625.01,685.56 628.59,682.09 632.17,678.63 635.76,675.18 639.34,671.76 642.93,668.35 646.51,664.98 650.09,661.64 653.68,658.34 657.26,655.08 660.85,651.86 664.43,648.66 668.01,645.5 671.6,642.37 675.18,639.26 678.77,636.19 682.35,633.13 685.93,630.1 689.52,627.08 693.1,624.09 696.69,621.11 700.27,618.14 703.85,615.19 707.44,612.24 711.02,609.31 714.61,606.38 718.19,603.46 721.77,600.55 725.36,597.65 728.94,594.76 732.53,591.89 736.11,589.03 739.69,586.18 743.28,583.34 746.86,580.52 750.45,577.72 754.03,574.94 757.61,572.17 761.2,569.42 764.78,566.69 768.37,563.99 771.95,561.3 775.53,558.63 779.12,555.98 782.7,553.35 786.29,550.74 789.87,548.14 793.45,545.55 797.04,542.98 800.62,540.41 804.21,537.86 807.79,535.31 811.37,532.78 814.96,530.25 818.54,527.72 822.13,525.2 828.1,520.99"/>
<polyline class="ds" stroke="#b22222" points="478.06,787.44 481.65,786.85 485.23,786.25 488.81,785.64 492.4,785.03 495.98,784.42 499.57,783.79 503.15,783.15 506.73,782.49 510.32,781.81 513.9,781.12 517.49,780.41 521.07,779.67 524.65,778.9 528.24,778.11 531.82,777.29 535.41,776.43 538.99,775.56 542.57,774.65 546.16,773.73 549.74,772.79 553.33,771.83 556.91,770.86 560.49,769.88 564.08,768.89 567.66,767.89 571.25,766.89 574.83,765.89 578.41,764.9 582,763.91 585.58,762.93 589.17,761.96 592.75,761 596.33,760.05 599.92,759.12 603.5,758.2 607.09,757.3 610.67,756.41 614.25,755.54 617.84,754.68 621.42,753.84 625.01,753.01 628.59,752.2 632.17,751.41 635.76,750.63 639.34,749.87 642.93,749.12 646.51,748.4 650.09,747.69 653.68,746.99 657.26,746.32 660.85,745.66 664.43,745.01 668.01,744.37 671.6,743.75 675.18,743.13 678.77,742.52 682.35,741.92 685.93,741.32 689.52,740.73 693.1,740.14 696.69,739.55 700.27,738.96 703.85,738.37 707.44,737.78 711.02,737.18 714.61,736.58 718.19,735.98 721.77,735.38 725.36,734.79 728.94,734.21 732.53,733.64 736.11,733.08 739.69,732.53 743.28,732.01 746.86,731.5 750.45,731.03 754.03,730.57 757.61,730.15 761.2,729.76 764.78,729.4 768.37,729.08 771.95,728.81 775.53,728.56 779.12,728.36 782.7,728.19 786.29,728.04 789.87,727.93 793.45,727.84 797.04,727.78 800.62,727.73 804.21,727.71 807.79,727.7 811.37,727.7 814.96,727.72 818.54,727.74 822.13,727.77 828.1,727.83"/>
<polyline class="md" stroke="#4682b4" points="478.06,784.49 481.65,783.73 485.23,782.97 488.81,782.21 492.4,781.45 495.98,780.68 499.57,779.92 503.15,779.15 506.73,778.38 510.32,777.6 513.9,776.83 517.49,776.05 521.07,775.26 524.65,774.47 528.24,773.67 531.82,772.87 535.41,772.06 538.99,771.25 542.57,770.44 546.16,769.62 549.74,768.8 553.33,767.97 556.91,767.14 560.49,766.32 564.08,765.49 567.66,764.66 571.25,763.84 574.83,763.01 578.41,762.19 582,761.37 585.58,760.55 589.17,759.74 592.75,758.93 596.33,758.13 599.92,757.33 603.5,756.54 607.09,755.75 610.67,754.97 614.25,754.19 617.84,753.41 621.42,752.65 625.01,751.89 628.59,751.13 632.17,750.38 635.76,749.64 639.34,748.9 642.93,748.17 646.51,747.44 650.09,746.72 653.68,746.01 657.26,745.3 660.85,744.6 664.43,743.91 668.01,743.23 671.6,742.55 675.18,741.89 678.77,741.23 682.35,740.58 685.93,739.94 689.52,739.3 693.1,738.68 696.69,738.07 700.27,737.47 703.85,736.87 707.44,736.29 711.02,735.72 714.61,735.16 718.19,734.61 721.77,734.08 725.36,733.55 728.94,733.03 732.53,732.52 736.11,732.03 739.69,731.54 743.28,731.06 746.86,730.59 750.45,730.14 754.03,729.69 757.61,729.25 761.2,728.81 764.78,728.39 768.37,727.98 771.95,727.57 775.53,727.17 779.12,726.78 782.7,726.4 786.29,726.02 789.87,725.65 793.45,725.28 797.04,724.92 800.62,724.56 804.21,724.21 807.79,723.86 811.37,723.51 814.96,723.17 818.54,722.83 822.13,722.49 828.1,721.92"/>
<polyline class="ds" stroke="#4682b4" points="478.06,781.53 481.65,780.52 485.23,779.51 488.81,778.49 492.4,777.47 495.98,776.42 499.57,775.36 503.15,774.27 506.73,773.16 510.32,772.02 513.9,770.85 517.49,769.63 521.07,768.38 524.65,767.09 528.24,765.74 531.82,764.34 535.41,762.9 538.99,761.4 542.57,759.86 546.16,758.28 549.74,756.66 553.33,755.01 556.91,753.32 560.49,751.61 564.08,749.87 567.66,748.11 571.25,746.33 574.83,744.54 578.41,742.74 582,740.92 585.58,739.1 589.17,737.28 592.75,735.46 596.33,733.64 599.92,731.83 603.5,730.01 607.09,728.19 610.67,726.38 614.25,724.57 617.84,722.75 621.42,720.94 625.01,719.13 628.59,717.32 632.17,715.51 635.76,713.7 639.34,711.89 642.93,710.08 646.51,708.28 650.09,706.47 653.68,704.66 657.26,702.86 660.85,701.06 664.43,699.26 668.01,697.46 671.6,695.68 675.18,693.89 678.77,692.12 682.35,690.35 685.93,688.6 689.52,686.85 693.1,685.11 696.69,683.39 700.27,681.68 703.85,679.98 707.44,678.3 711.02,676.64 714.61,674.99 718.19,673.35 721.77,671.73 725.36,670.13 728.94,668.54 732.53,666.96 736.11,665.4 739.69,663.85 743.28,662.31 746.86,660.79 750.45,659.28 754.03,657.78 757.61,656.29 761.2,654.81 764.78,653.35 768.37,651.89 771.95,650.44 775.53,649.01 779.12,647.58 782.7,646.16 786.29,644.75 789.87,643.34 793.45,641.94 797.04,640.55 800.62,639.16 804.21,637.77 807.79,636.39 811.37,635.02 814.96,633.64 818.54,632.27 822.13,630.9 828.1,628.62"/>
<polyline class="ds" stroke="#4682b4" points="478.06,787.44 481.65,786.9 485.23,786.37 488.81,785.83 492.4,785.3 495.98,784.77 499.57,784.24 503.15,783.71 506.73,783.19 510.32,782.68 513.9,782.17 517.49,781.67 521.07,781.18 524.65,780.69 528.24,780.21 531.82,779.74 535.41,779.28 538.99,778.83 542.57,778.39 546.16,777.96 549.74,777.54 553.33,777.12 556.91,776.72 560.49,776.32 564.08,775.93 567.66,775.55 571.25,775.17 574.83,774.8 578.41,774.44 582,774.09 585.58,773.75 589.17,773.41 592.75,773.07 596.33,772.75 599.92,772.43 603.5,772.12 607.09,771.81 610.67,771.51 614.25,771.22 617.84,770.94 621.42,770.66 625.01,770.39 628.59,770.12 632.17,769.86 635.76,769.61 639.34,769.37 642.93,769.13 646.51,768.9 650.09,768.68 653.68,768.46 657.26,768.25 660.85,768.05 664.43,767.86 668.01,767.67 671.6,767.49 675.18,767.32 678.77,767.15 682.35,766.99 685.93,766.83 689.52,766.69 693.1,766.55 696.69,766.41 700.27,766.29 703.85,766.17 707.44,766.06 711.02,765.95 714.61,765.85 718.19,765.76 721.77,765.67 725.36,765.59 728.94,765.52 732.53,765.46 736.11,765.4 739.69,765.35 743.28,765.32 746.86,765.28 750.45,765.26 754.03,765.25 757.61,765.24 761.2,765.25 764.78,765.26 768.37,765.28 771.95,765.31 775.53,765.35 779.12,765.4 782.7,765.46 786.29,765.52 789.87,765.59 793.45,765.67 797.04,765.75 800.62,765.84 804.21,765.93 807.79,766.03 811.37,766.12 814.96,766.23 818.54,766.33 822.13,766.43 828.1,766.61"/>
<polyline class="md" stroke="#00008b" points="478.06,784.49 481.65,783.82 485.23,783.16 488.81,782.5 492.4,781.84 495.98,781.18 499.57,780.53 503.15,779.88 506.73,779.23 510.32,778.59 513.9,777.95 517.49,777.32 521.07,776.69 524.65,776.07 528.24,775.46 531.82,774.85 535.41,774.25 538.99,773.66 542.57,773.08 546.16,772.5 549.74,771.93 553.33,771.37 556.91,770.81 560.49,770.26 564.08,769.71 567.66,769.17 571.25,768.63 574.83,768.1 578.41,767.57 582,767.05 585.58,766.53 589.17,766.02 592.75,765.51 596.33,765 599.92,764.5 603.5,764 607.09,763.51 610.67,763.02 614.25,762.54 617.84,762.06 621.42,761.59 625.01,761.13 628.59,760.68 632.17,760.23 635.76,759.79 639.34,759.36 642.93,758.94 646.51,758.53 650.09,758.13 653.68,757.74 657.26,757.36 660.85,756.98 664.43,756.62 668.01,756.26 671.6,755.92 675.18,755.58 678.77,755.24 682.35,754.92 685.93,754.6 689.52,754.29 693.1,753.98 696.69,753.68 700.27,753.39 703.85,753.1 707.44,752.82 711.02,752.54 714.61,752.26 718.19,751.99 721.77,751.72 725.36,751.46 728.94,751.2 732.53,750.95 736.11,750.7 739.69,750.46 743.28,750.22 746.86,749.98 750.45,749.75 754.03,749.52 757.61,749.3 761.2,749.08 764.78,748.87 768.37,748.66 771.95,748.46 775.53,748.26 779.12,748.06 782.7,747.87 786.29,747.68 789.87,747.49 793.45,747.31 797.04,747.13 800.62,746.95 804.21,746.77 807.79,746.6 811.37,746.43 814.96,746.25 818.54,746.08 822.13,745.91 828.1,745.63"/>
<polyline class="ds" stroke="#00008b" points="478.06,781.53 481.65,780.58 485.23,779.63 488.81,778.68 492.4,777.72 495.98,776.76 499.57,775.8 503.15,774.83 506.73,773.86 510.32,772.88 513.9,771.89 517.49,770.89 521.07,769.89 524.65,768.87 528.24,767.84 531.82,766.8 535.41,765.75 538.99,764.69 542.57,763.6 546.16,762.51 549.74,761.4 553.33,760.27 556.91,759.12 560.49,757.95 564.08,756.76 567.66,755.55 571.25,754.31 574.83,753.06 578.41,751.78 582,750.47 585.58,749.13 589.17,747.77 592.75,746.38 596.33,744.97 599.92,743.53 603.5,742.07 607.09,740.6 610.67,739.11 614.25,737.6 617.84,736.09 621.42,734.57 625.01,733.04 628.59,731.51 632.17,729.99 635.76,728.46 639.34,726.95 642.93,725.44 646.51,723.94 650.09,722.46 653.68,720.99 657.26,719.54 660.85,718.1 664.43,716.68 668.01,715.27 671.6,713.87 675.18,712.48 678.77,711.1 682.35,709.73 685.93,708.37 689.52,707.02 693.1,705.67 696.69,704.33 700.27,703 703.85,701.67 707.44,700.35 711.02,699.03 714.61,697.71 718.19,696.39 721.77,695.08 725.36,693.78 728.94,692.48 732.53,691.2 736.11,689.91 739.69,688.64 743.28,687.38 746.86,686.12 750.45,684.88 754.03,683.65 757.61,682.43 761.2,681.22 764.78,680.03 768.37,678.85 771.95,677.69 775.53,676.54 779.12,675.41 782.7,674.28 786.29,673.17 789.87,672.07 793.45,670.98 797.04,669.9 800.62,668.82 804.21,667.76 807.79,666.7 811.37,665.64 814.96,664.59 818.54,663.54 822.13,662.5 828.1,660.75"/>
<polyline class="ds" stroke="#00008b" points="478.06,787.44 481.65,787.03 485.23,786.62 488.81,786.22 492.4,785.81 495.98,785.41 499.57,785.01 503.15,784.61 506.73,784.22 510.32,783.84 513.9,783.46 517.49,783.09 521.07,782.72 524.65,782.36 528.24,782.02 531.82,781.68 535.41,781.35 538.99,781.03 542.57,780.72 546.16,780.42 549.74,780.13 553.33,779.85 556.91,779.59 560.49,779.33 564.08,779.09 567.66,778.86 571.25,778.65 574.83,778.44 578.41,778.25 582,778.08 585.58,777.91 589.17,777.76 592.75,777.63 596.33,777.51 599.92,777.4 603.5,777.31 607.09,777.23 610.67,777.16 614.25,777.11 617.84,777.06 621.42,777.03 625.01,777.01 628.59,776.99 632.17,776.99 635.76,777 639.34,777.02 642.93,777.04 646.51,777.07 650.09,777.11 653.68,777.16 657.26,777.22 660.85,777.28 664.43,777.35 668.01,777.42 671.6,777.5 675.18,777.59 678.77,777.68 682.35,777.77 685.93,777.87 689.52,777.98 693.1,778.08 696.69,778.19 700.27,778.31 703.85,778.42 707.44,778.54 711.02,778.66 714.61,778.78 718.19,778.9 721.77,779.02 725.36,779.15 728.94,779.28 732.53,779.4 736.11,779.53 739.69,779.67 743.28,779.8 746.86,779.94 750.45,780.08 754.03,780.21 757.61,780.36 761.2,780.5 764.78,780.65 768.37,780.79 771.95,780.94 775.53,781.09 779.12,781.25 782.7,781.4 786.29,781.56 789.87,781.72 793.45,781.87 797.04,782.03 800.62,782.2 804.21,782.36 807.79,782.52 811.37,782.68 814.96,782.85 818.54,783.01 822.13,783.18 828.1,783.45"/>
</g>
<rect class="ax" x="469.7" y="453.9" width="358.4" height="347"/>
<path class="tm" d="M469.7 800.9v5.5M529.43 800.9v5.5M589.17 800.9v5.5M648.9 800.9v5.5M708.63 800.9v5.5M768.37 800.9v5.5M828.1 800.9v5.5M469.7 786.13h-5.5M828.1 786.13h5.5M469.7 712.3h-5.5M828.1 712.3h5.5M469.7 638.47h-5.5M828.1 638.47h5.5M469.7 564.64h-5.5M828.1 564.64h5.5M469.7 490.81h-5.5M828.1 490.81h5.5"/>
<text class="tk" text-anchor="middle" x="469.7" y="824">2000</text>
<text class="tk" text-anchor="middle" x="529.43" y="824">2050</text>
<text class="tk" text-anchor="middle" x="589.17" y="824">2100</text>
<text class="tk" text-anchor="middle" x="648.9" y="824">2150</text>
<text class="tk" text-anchor="middle" x="708.63" y="824">2200</text>
<text class="tk" text-anchor="middle" x="768.37" y="824">2250</text>
<text class="tk" text-anchor="middle" x="828.1" y="824">2300</text>
<text class="tk" text-anchor="end" x="458.8" y="791.97">0</text>
<text class="tk" text-anchor="end" x="458.8" y="718.14">1</text>
<text class="tk" text-anchor="end" x="458.8" y="644.31">2</text>
<text class="tk" text-anchor="end" x="458.8" y="570.48">3</text>
<text class="tk" text-anchor="end" x="458.8" y="496.65">4</text>
<text class="tt" text-anchor="middle" x="648.9" y="444.3">Belfast (Bangor)</text>
<text class="tk" text-anchor="middle" x="648.9" y="846.8">Year</text>
<line x1="67" x2="98.2" y1="59" y2="59" stroke="#b22222" stroke-width="6" stroke-linecap="square"/>
<text class="tk" x="111.2" y="64.5">RCP8.5</text>
<line x1="67" x2="98.2" y1="82.85" y2="82.85" stroke="#4682b4" stroke-width="6" stroke-linecap="square"/>
<text class="tk" x="111.2" y="88.35">RCP4.5</text>
<line x1="67" x2="98.2" y1="106.7" y2="106.7" stroke="#00008b" stroke-width="6" stroke-linecap="square"/>
<text class="tk" x="111.2" y="112.2">RCP2.6</text>
</svg></body></html>
